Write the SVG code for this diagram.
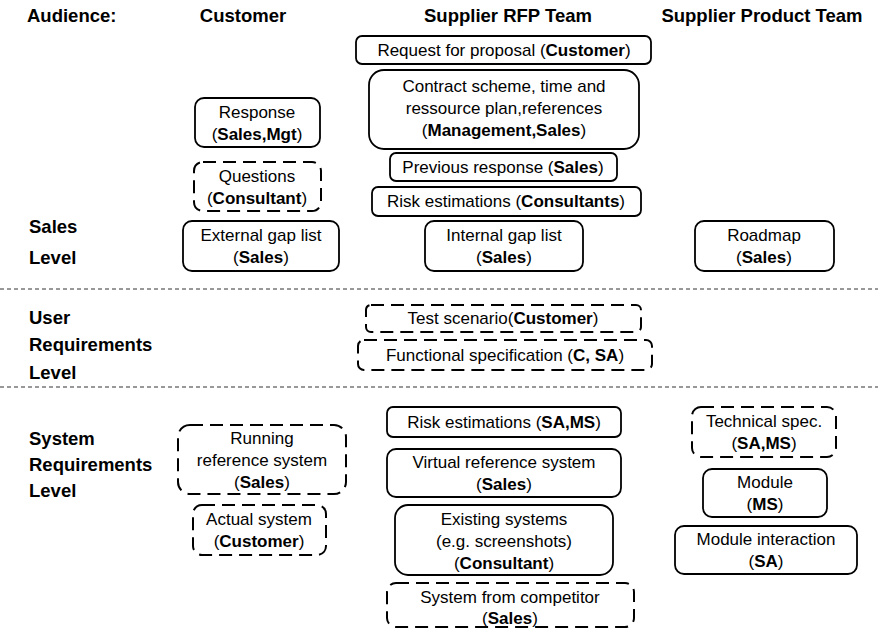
<svg xmlns="http://www.w3.org/2000/svg" width="878" height="635" viewBox="0 0 878 635">
<style>
text{font-family:"Liberation Sans",Arial,sans-serif;fill:#000}
.h{font-size:18.5px;font-weight:bold}
.t{font-size:17px;text-anchor:middle}
.b{font-weight:bold}
.box{fill:#fff;stroke:#000;stroke-width:1.8}
.dash{fill:#fff;stroke:#000;stroke-width:2;stroke-dasharray:13 7}
.sep{stroke:#333;stroke-width:1;stroke-dasharray:4 3}
</style>
<rect width="878" height="635" fill="#fff"/>
<g id="headers">
<text class="h" x="27" y="22">Audience:</text>
<text class="h" x="243" y="22" text-anchor="middle">Customer</text>
<text class="h" x="508" y="22" text-anchor="middle">Supplier RFP Team</text>
<text class="h" x="762" y="22" text-anchor="middle">Supplier Product Team</text>
</g>
<g id="levels">
<text class="h" x="29" y="233">Sales</text>
<text class="h" x="29" y="264">Level</text>
<text class="h" x="29" y="324">User</text>
<text class="h" x="29" y="351">Requirements</text>
<text class="h" x="29" y="379">Level</text>
<text class="h" x="29" y="445">System</text>
<text class="h" x="29" y="471">Requirements</text>
<text class="h" x="29" y="497">Level</text>
</g>
<g id="connectors">
<line class="sep" x1="0" y1="289" x2="878" y2="289"/>
<line class="sep" x1="0" y1="387" x2="878" y2="387"/>
</g>
<g id="n1"><rect class="box" x="356" y="36" width="295" height="28" rx="6"/><text class="t" x="504" y="56">Request for proposal (<tspan class="b">Customer</tspan>)</text></g>
<g id="n2"><rect class="box" x="369" y="70" width="270" height="79" rx="15"/><text class="t" x="504" y="92">Contract scheme, time and</text><text class="t" x="504" y="114">ressource plan,references</text><text class="t" x="504" y="136">(<tspan class="b">Management,Sales</tspan>)</text></g>
<g id="n3"><rect class="box" x="195" y="98" width="125" height="49" rx="9"/><text class="t" x="257" y="118">Response</text><text class="t" x="257" y="140">(<tspan class="b">Sales,Mgt</tspan>)</text></g>
<g id="n4"><rect class="dash" x="194" y="162" width="127" height="49" rx="9"/><text class="t" x="257" y="182">Questions</text><text class="t" x="257" y="204">(<tspan class="b">Consultant</tspan>)</text></g>
<g id="n5"><rect class="box" x="390" y="153" width="227" height="28" rx="6"/><text class="t" x="503" y="173">Previous response (<tspan class="b">Sales</tspan>)</text></g>
<g id="n6"><rect class="box" x="372" y="187" width="269" height="29" rx="6"/><text class="t" x="506" y="207">Risk estimations (<tspan class="b">Consultants</tspan>)</text></g>
<g id="n7"><rect class="box" x="183" y="221" width="156" height="50" rx="9"/><text class="t" x="261" y="241">External gap list</text><text class="t" x="261" y="263">(<tspan class="b">Sales</tspan>)</text></g>
<g id="n8"><rect class="box" x="425" y="221" width="158" height="50" rx="9"/><text class="t" x="504" y="241">Internal gap list</text><text class="t" x="504" y="263">(<tspan class="b">Sales</tspan>)</text></g>
<g id="n9"><rect class="box" x="695" y="221" width="139" height="50" rx="9"/><text class="t" x="764" y="241">Roadmap</text><text class="t" x="764" y="263">(<tspan class="b">Sales</tspan>)</text></g>
<g id="n10"><rect class="dash" x="366" y="305" width="275" height="27" rx="5"/><text class="t" x="503" y="324">Test scenario(<tspan class="b">Customer</tspan>)</text></g>
<g id="n11"><rect class="dash" x="358" y="340" width="294" height="30" rx="6"/><text class="t" x="505" y="361">Functional specification (<tspan class="b">C, SA</tspan>)</text></g>
<g id="n12"><rect class="box" x="387" y="407" width="234" height="30" rx="6"/><text class="t" x="504" y="428">Risk estimations (<tspan class="b">SA,MS</tspan>)</text></g>
<g id="n13"><rect class="box" x="387" y="449" width="234" height="48" rx="9"/><text class="t" x="504" y="468">Virtual reference system</text><text class="t" x="504" y="490">(<tspan class="b">Sales</tspan>)</text></g>
<g id="n14"><rect class="box" x="395" y="505" width="218" height="70" rx="13"/><text class="t" x="504" y="525">Existing systems</text><text class="t" x="504" y="547">(e.g. screenshots)</text><text class="t" x="504" y="569">(<tspan class="b">Consultant</tspan>)</text></g>
<g id="n15"><rect class="dash" x="387" y="583" width="247" height="44" rx="9"/><text class="t" x="510" y="603">System from competitor</text><text class="t" x="510" y="624">(<tspan class="b">Sales</tspan>)</text></g>
<g id="n16"><rect class="dash" x="178" y="425" width="168" height="69" rx="12"/><text class="t" x="262" y="444">Running</text><text class="t" x="262" y="466">reference system</text><text class="t" x="262" y="488">(<tspan class="b">Sales</tspan>)</text></g>
<g id="n17"><rect class="dash" x="193" y="505" width="133" height="50" rx="9"/><text class="t" x="259" y="525">Actual system</text><text class="t" x="259" y="547">(<tspan class="b">Customer</tspan>)</text></g>
<g id="n18"><rect class="dash" x="692" y="407" width="144" height="50" rx="9"/><text class="t" x="764" y="427">Technical spec.</text><text class="t" x="764" y="449">(<tspan class="b">SA,MS</tspan>)</text></g>
<g id="n19"><rect class="box" x="703" y="469" width="124" height="48" rx="9"/><text class="t" x="765" y="488">Module</text><text class="t" x="765" y="510">(<tspan class="b">MS</tspan>)</text></g>
<g id="n20"><rect class="box" x="675" y="526" width="182" height="48" rx="9"/><text class="t" x="766" y="545">Module interaction</text><text class="t" x="766" y="567">(<tspan class="b">SA</tspan>)</text></g>
</svg>
